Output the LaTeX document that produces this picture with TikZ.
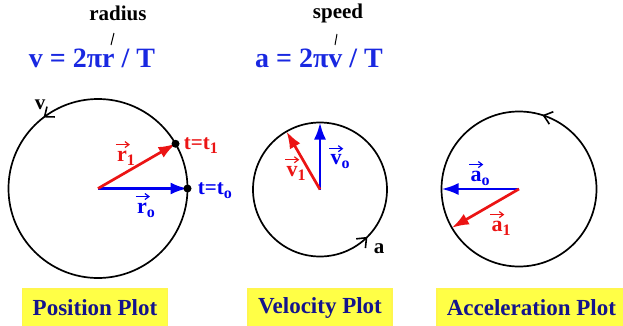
\documentclass[tikz,border=0pt]{standalone}
\usepackage{fontspec}
\setmainfont{Liberation Serif}
\usepackage{tikz}
\definecolor{eqblue}{RGB}{25, 40, 225}
\definecolor{vecblue}{RGB}{0, 0, 240}
\definecolor{vecred}{RGB}{235, 20, 20}
\definecolor{navy}{RGB}{20, 20, 140}
\definecolor{tagyellow}{RGB}{255, 255, 70}
\usetikzlibrary{arrows.meta, positioning, decorations.markings}
\newcommand{\lowsub}[1]{\raisebox{-4pt}{\fontsize{16}{16}\selectfont #1}}

\begin{document}
\begin{tikzpicture}[
    x=1pt, y=1pt,
    orbit/.style={draw=black, line width=1.7pt},
    vec/.style={line width=2.7pt, -{Latex[length=17pt, width=12pt]}},
    dot/.style={circle, fill=black, inner sep=0pt, minimum size=8pt},
    eq/.style={font=\fontsize{28}{30}\selectfont\bfseries, text=eqblue, inner sep=0pt, anchor=base},
    word/.style={font=\fontsize{21}{23}\selectfont\bfseries, inner sep=0pt, anchor=base},
    lab/.style={font=\fontsize{21}{23}\selectfont\bfseries, inner sep=0pt},
    veclab/.style={lab, font=\fontsize{22}{24}\selectfont\bfseries, text=#1, append after command={
        ([xshift=-1pt, yshift=6pt]\tikzlastnode.north west) edge[draw=#1, line width=1.2pt, -{Straight Barb[length=4pt, width=6pt]}]
        ([xshift=13pt, yshift=6pt]\tikzlastnode.north west)}},
    tick/.style={line width=1pt},
    plotlabel/.style={rectangle, fill=tagyellow, draw=yellow!70, line width=1.5pt, minimum height=38pt, inner xsep=10pt, font=\fontsize{23}{25}\selectfont\bfseries, text=navy},
    spin/.style={decoration={markings, mark=at position #1 with {\arrow{Straight Barb[length=8pt, width=13pt, line width=1.6pt]}}}, postaction=decorate}
]
    \useasboundingbox (0,0) rectangle (623,325);

    % formulas
    \node[eq] (veq) at (92,258) {v = 2πr / T};
    \node[word] (radius) at (118,305) {radius};
    \coordinate (rfoot) at (111,280);
    \coordinate (rtop) at (114,292);
    \draw[tick] (rfoot) -- (rtop);
    \node[eq] (aeq) at (319,258) {a = 2πv / T};
    \node[word] (speed) at (338,307) {speed};
    \coordinate (sfoot) at (335,280);
    \coordinate (stop) at (337,291);
    \draw[tick] (sfoot) -- (stop);

    % position plot
    \coordinate (P) at (98,136.5);
    \draw[orbit, spin=0.354] (P) circle[radius=89.5];
    \path (P) ++(0:89.5) coordinate (r0) (P) ++(30:89.5) coordinate (r1);
    \draw[vec, vecblue] (P) -- (r0);
    \draw[vec, vecred] (P) -- (r1);
    \node[dot] (d0) at (r0) {};
    \node[dot] (d1) at (r1) {};
    \node[lab, text=vecred, right=4pt of d1, yshift=-2pt] (t1) {t=t\lowsub{1}};
    \node[lab, text=vecblue, right=6pt of d0, yshift=-2pt] (t0) {t=t\lowsub{o}};
    \node[veclab=vecred] (r1lab) at (126,167) {r\lowsub{1}};
    \node[veclab=vecblue] (r0lab) at (146,115) {r\lowsub{o}};
    \node[lab] (vlab) at (40,220) {v};

    % velocity plot
    \coordinate (V) at (320,135.5);
    \draw[orbit, spin=0.875] (V) circle[radius=67];
    \path (V) ++(90:67) coordinate (v0) (V) ++(120:67) coordinate (v1);
    \draw[vec, vecblue] (V) -- (v0);
    \draw[vec, vecred] (V) -- (v1);
    \node[veclab=vecblue] (v0lab) at (340,163) {v\lowsub{o}};
    \node[veclab=vecred] (v1lab) at (296,152) {v\lowsub{1}};
    \node[lab] (alab) at (379,76) {a};

    % acceleration plot
    \coordinate (A) at (519,136);
    \draw[orbit, spin=0.201] (A) circle[radius=77.5];
    \path (A) ++(180:77.5) coordinate (a0) (A) ++(210:77.5) coordinate (a1);
    \draw[vec, vecblue] (A) -- (a0);
    \draw[vec, vecred] (A) -- (a1);
    \node[veclab=vecblue] (a0lab) at (480,147) {a\lowsub{o}};
    \node[veclab=vecred] (a1lab) at (501,97) {a\lowsub{1}};

    % captions
    \node[plotlabel] (pos) at (95,17) {Position Plot};
    \node[plotlabel] (vel) at (320,17) {Velocity Plot};
    \node[plotlabel, anchor=west] (acc) at (436,17) {Acceleration Plot};
\end{tikzpicture}
\end{document}
